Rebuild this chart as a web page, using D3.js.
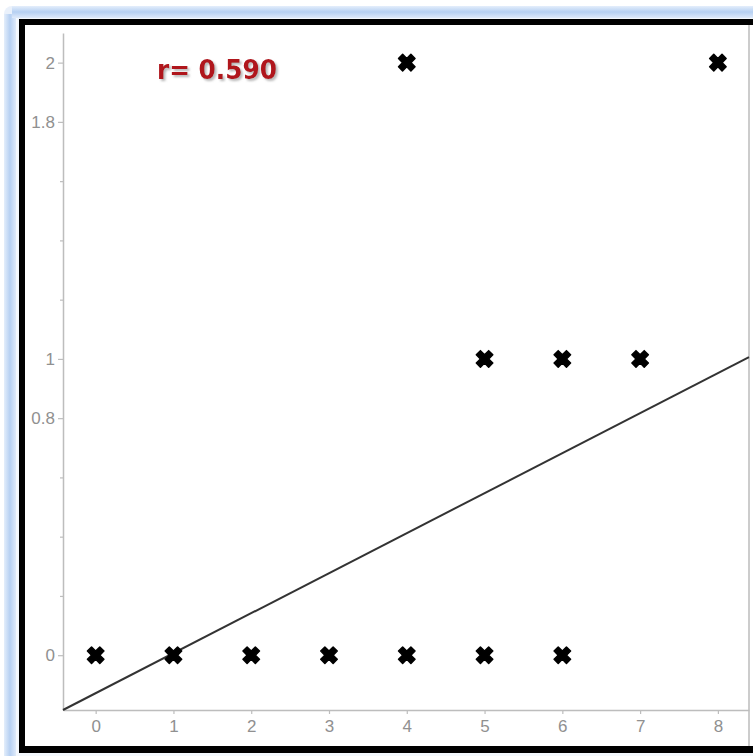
<!DOCTYPE html>
<html><head><meta charset="utf-8">
<script src="https://cdn.jsdelivr.net/npm/d3@7"></script>
<style>html,body{margin:0;padding:0;background:#fff;overflow:hidden}</style>
</head><body>
<script>
// Data
const pointsX = [0, 1, 2, 3, 4, 5, 6, 4, 8, 5, 6, 7];
const pointsY = [0, 0, 0, 0, 0, 0, 0, 2, 2, 1, 1, 1];
const lineX = [-0.42, 8.4];
const lineY = [-0.185, 1.006];
const xTicks = [0, 1, 2, 3, 4, 5, 6, 7, 8];
const yTicksLabeled = [0, 0.8, 1, 1.8, 2];
const yTicksMinor = [0.2, 0.4, 0.6, 1.2, 1.4, 1.6];
const annotation = "r= 0.590";

const W = 753, H = 756;
const svg = d3.select("body").append("svg").attr("width", W).attr("height", H);
const defs = svg.append("defs");
const gl = defs.append("linearGradient").attr("id","gl").attr("x1","0").attr("x2","1").attr("y1","0").attr("y2","0");
gl.append("stop").attr("offset","0").attr("stop-color","#e4eefb");
gl.append("stop").attr("offset","0.5").attr("stop-color","#b6d0f2");
gl.append("stop").attr("offset","1").attr("stop-color","#dfeafa");
const gt = defs.append("linearGradient").attr("id","gt").attr("x1","0").attr("x2","0").attr("y1","0").attr("y2","1");
gt.append("stop").attr("offset","0").attr("stop-color","#e4eefb");
gt.append("stop").attr("offset","0.5").attr("stop-color","#b6d0f2");
gt.append("stop").attr("offset","1").attr("stop-color","#dfeafa");
const f = defs.append("filter").attr("id","shadow").attr("x","-10%").attr("y","-20%").attr("width","130%").attr("height","150%");
f.append("feDropShadow").attr("dx",2).attr("dy",2).attr("stdDeviation",1.2).attr("flood-color","#888").attr("flood-opacity",0.6);

// frame
svg.append("rect").attr("x",0).attr("y",0).attr("width",W).attr("height",H).attr("fill","#fff");
svg.append("rect").attr("x",4).attr("y",6).attr("width",W).attr("height",H).attr("rx",8).attr("fill","#eaf1fb");
svg.append("rect").attr("x",4).attr("y",14).attr("width",12).attr("height",H).attr("fill","url(#gl)");
svg.append("rect").attr("x",12).attr("y",6).attr("width",W).attr("height",12).attr("fill","url(#gt)");
svg.append("rect").attr("x",16).attr("y",18).attr("width",W).attr("height",H).attr("fill","#f4f8fd");
svg.append("rect").attr("x",19).attr("y",19).attr("width",W).attr("height",734).attr("fill","#000");
svg.append("rect").attr("x",25).attr("y",25).attr("width",W).attr("height",721).attr("fill","#fff");
svg.append("line").attr("x1",749).attr("x2",749).attr("y1",25).attr("y2",746).attr("stroke","#aaa").attr("stroke-width",1.2);

const x = d3.scaleLinear().domain([-0.42, 8.4]).range([63, 749]);
const y = d3.scaleLinear().domain([-0.185, 2.1]).range([710, 33]);

const axisCol = "#bdbdbd", labCol = "#909090";
// x axis
const xa = svg.append("g").attr("transform","translate(0,710)")
  .call(d3.axisBottom(x).tickValues(xTicks).tickFormat(d3.format("d")).tickSize(4).tickSizeOuter(0));
xa.select(".domain").attr("stroke",axisCol).attr("stroke-width",1.5);
xa.selectAll(".tick line").attr("stroke",axisCol).attr("stroke-width",1.2);
xa.selectAll(".tick text").attr("fill",labCol).attr("font-family","Liberation Sans, Arial, sans-serif").attr("font-size",17).attr("dy","0.9em");

// y axis
const ya = svg.append("g").attr("transform","translate(63,0)")
  .call(d3.axisLeft(y).tickValues(yTicksLabeled).tickFormat(d => String(d)).tickSize(5).tickSizeOuter(0).tickPadding(3));
ya.select(".domain").attr("stroke",axisCol).attr("stroke-width",1.5);
ya.selectAll(".tick line").attr("stroke",axisCol).attr("stroke-width",1.2);
ya.selectAll(".tick text").attr("fill",labCol).attr("font-family","Liberation Sans, Arial, sans-serif").attr("font-size",17);
const ym = svg.append("g").attr("transform","translate(63,0)")
  .call(d3.axisLeft(y).tickValues(yTicksMinor).tickFormat("").tickSize(3).tickSizeOuter(0));
ym.select(".domain").remove();
ym.selectAll(".tick line").attr("stroke",axisCol).attr("stroke-width",1.2);

// regression line
svg.append("path").datum(lineX.map((v,i)=>[v,lineY[i]]))
  .attr("d", d3.line().x(d=>x(d[0])).y(d=>y(d[1])))
  .attr("stroke","#333").attr("stroke-width",2).attr("fill","none");

// points
const sym = d3.symbol().type(d3.symbolCross).size(170);
svg.append("g").selectAll("path").data(pointsX.map((v,i)=>[v,pointsY[i]])).join("path")
  .attr("d", sym)
  .attr("transform", d => `translate(${x(d[0])},${y(d[1])}) rotate(45)`)
  .attr("fill","#000").attr("stroke","#000").attr("stroke-width",1.5).attr("stroke-linejoin","round");

// annotation
svg.append("text").attr("x",157).attr("y",79).text(annotation)
  .attr("font-family","DejaVu Sans, sans-serif").attr("font-weight","bold").attr("font-size",27)
  .attr("textLength",120).attr("lengthAdjust","spacingAndGlyphs")
  .attr("fill","#b0141c").attr("filter","url(#shadow)");
</script>
</body></html>
